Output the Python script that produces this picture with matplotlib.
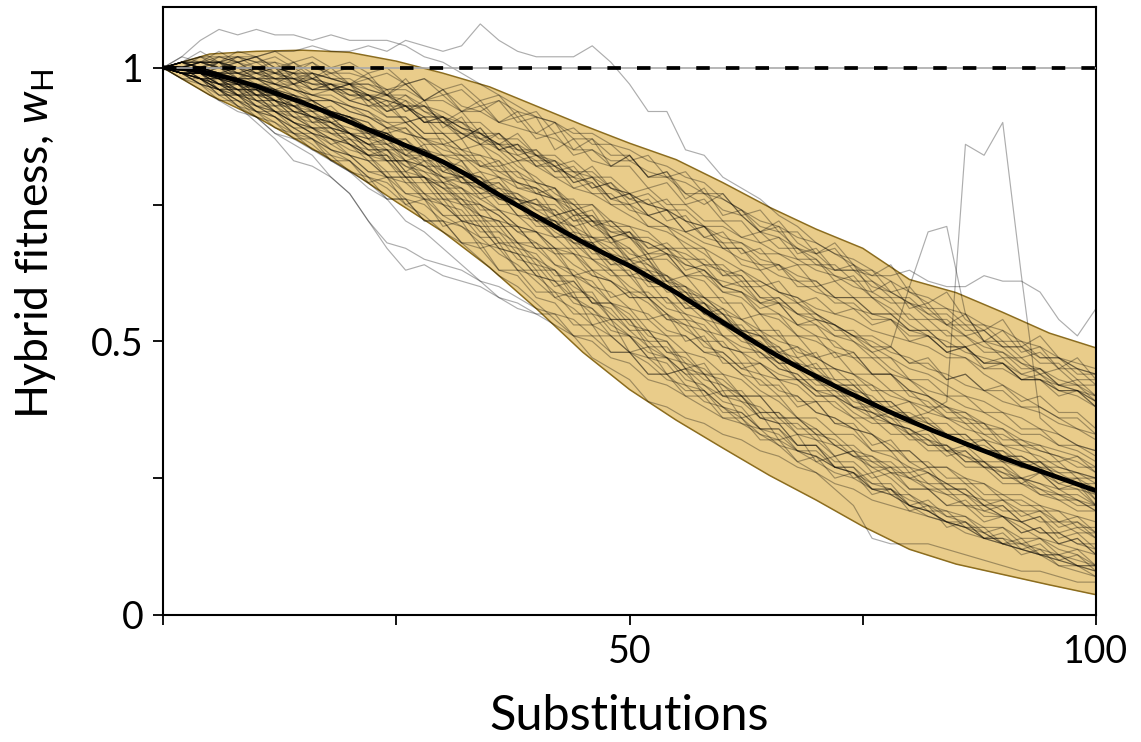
#! /usr/bin/env python3

import numpy as np
import matplotlib
matplotlib.use('Agg')
import matplotlib.pyplot as plt

# Substitution steps for the simulated runs (every 2 substitutions)
run_x = np.arange(0, 101, 2)

# Simulated hybrid fitness runs, in percent
run_01 = [100,101,100,102,101,102,100,99,101,98,97, 98,95,97,94,96,93,92,94,90,91, 85,87,83,82,84,80,81,77,75,77, 73,70,72,68,66,68,64,62,64,59, 57,59,54,52,54,49,51,47,45,44]
run_02 = [100,100,99,99,97,97,96,94,94,92,91, 89,88,89,85,84,83,79,80,76,74, 74,70,69,67,67,63,62,59,58,55, 52,51,49,45,46,42,42,39,37,37, 35,33,31,32,29,27,28,25,25,23]
run_03 = [100,99,98,98,95,95,92,91,89,89,86, 84,84,80,80,77,77,73,72,71,67, 67,64,62,61,58,58,55,53,52,49, 48,46,44,43,40,40,37,35,35,32, 32,29,30,27,27,24,26,23,23,20]
run_04 = [100,101,100,101,99,100,98,99,97,96,97, 95,93,95,92,90,92,88,86,88,84, 82,80,82,78,76,75,76,72,69,68, 64,63,59,58,55,53,50,48,45,43, 40,38,36,35,31,31,28,28,25,25]
run_05 = [100,99,98,96,96,93,92,90,88,87,84, 83,80,80,77,75,72,71,67,66,62, 61,58,56,53,51,48,47,43,42,39, 38,34,34,30,30,27,26,23,23,20, 19,17,16,15,13,13,11,11,9,9]
run_06 = [100,100,101,100,101,99,100,97,98,96,96, 94,92,94,90,90,87,89,85,84,82, 80,78,77,75,73,71,70,68,66,63, 62,58,58,55,53,51,50,47,47,43, 43,40,40,37,37,34,34,31,31,29]
run_07 = [100,100,99,98,98,95,95,92,92,89,88, 86,85,83,82,79,78,76,74,71,70, 67,66,63,61,59,57,54,53,49,48, 45,44,41,40,37,36,34,33,30,30, 27,27,24,24,21,21,19,19,16,16]
run_08 = [100,101,102,102,101,102,100,101,99,98,98, 96,95,93,93,90,88,86,84,81,79, 76,74,71,69,66,65,61,60,57,55, 51,50,47,45,42,42,38,37,35,34, 31,31,28,28,25,25,22,22,20,20]
run_09 = [100,100,99,100,98,98,96,97,94,94,92, 91,89,88,87,84,84,81,80,78,77, 76,72,73,69,70,66,67,63,64,60, 61,57,58,55,55,52,52,49,49,46, 47,43,44,41,41,38,38,36,36,33]
run_10 = [100,99,97,95,93,90,87,83,82,80,77, 72,68,67,65,64,63,61,60,58,56, 55,54,51,51,48,47,44,45,42,40, 39,36,36,33,32,29,30,27,27,25, 24,22,22,19,20,17,18,15,16,14]
run_11 = [100,100,100,99,99,98,98,97,96,96,95, 94,91,91,88,88,85,86,82,83,79, 78,74,75,71,71,67,67,64,63,60, 59,55,55,51,51,47,48,44,44,41, 40,37,37,34,34,31,31,28,29,26]
run_12 = [100,100,99,98,97,96,95,93,92,90,89, 88,86,84,82,80,78,75,73,70,68, 66,62,61,57,55,51,50,46,45,42, 40,36,35,31,31,27,27,23,23,20, 19,17,17,14,14,11,12,9,9,7]
run_13 = [100,101,101,101,100,100,100,99,99,98,97, 97,95,95,93,92,90,90,87,87,84, 84,81,81,78,77,75,74,72,71,68, 68,65,64,62,61,58,58,55,55,52, 52,49,49,46,46,43,44,41,41,38]
run_14 = [100,99,99,98,96,96,94,93,91,91,88, 88,85,85,82,82,79,79,76,75,72, 72,68,68,65,64,61,61,57,57,53, 53,49,49,46,45,42,42,39,39,36, 35,33,33,30,30,28,28,26,26,24]
run_15 = [100,100,99,97,97,95,94,92,91,89,88, 85,85,81,80,78,76,73,72,68,67, 64,62,60,57,56,52,51,48,47,44, 43,40,40,36,36,33,33,30,29,27, 26,24,24,21,21,19,19,17,17,15]
run_16 = [100,102,105,107,106,107,106,106,105,106,105, 105,105,104,102,101,99,97,95,93,91, 90,87,87,84,84,80,80,77,77,74, 73,70,69,67,66,63,63,60,59,57, 56,53,53,50,50,47,48,45,45,42]
run_17 = [100,100,101,101,102,102,103,103,104,103,103, 104,103,105,104,103,104,108,105,103,102, 102,102,104,101,97,92,92,85,84,80, 78,76,73,71,68,66,64,61,59,57, 55,53,51,49,48,46,44,42,41,39]
run_18 = [100,99,99,98,97,97,96,94,93,92,91, 89,88,86,85,82,81,79,77,75,73, 72,69,68,65,64,61,60,58,55,53, 52,49,48,45,44,42,41,38,38,36, 37,39,86,84,90,62,36,33,31,30]
run_19 = [100,100,100,99,98,98,97,96,95,94,93, 91,90,88,87,85,84,82,81,79,78, 76,75,72,71,69,68,66,65,62,61, 60,57,57,55,54,53,51,51,49,60, 70,71,55,50,49,46,45,43,42,40]
run_20 = [100,101,100,100,99,99,98,98,97,97,96, 95,94,93,91,91,89,88,86,86,84, 83,81,80,78,77,75,74,72,71,69, 68,66,66,64,64,63,63,62,62,63, 61,60,60,62,61,61,59,54,51,56]
run_21 = [100,99,98,96,93,91,88,86,84,80,77, 72,67,63,64,62,61,60,58,57,55, 55,51,51,48,48,44,44,41,41,37, 37,34,34,31,31,28,28,25,26,23, 23,20,21,18,18,15,16,13,14,11]
run_22 = [100,100,100,99,98,98,96,95,94,92,91, 90,87,87,84,84,81,80,77,77,74, 72,71,67,67,64,63,60,58,57,54, 52,51,48,47,44,43,41,40,37,36, 34,33,31,30,28,27,26,24,23,22]
run_23 = [100,100,99,99,99,98,97,96,95,94,93, 92,90,90,87,87,84,84,81,81,77, 78,73,74,69,70,65,65,62,61,57, 57,52,52,47,48,43,43,39,39,36, 36,33,33,30,30,27,27,24,25,21]
run_24 = [100,100,98,98,96,96,94,93,91,90,88, 87,86,84,83,81,80,78,76,75,72, 71,68,67,63,63,58,58,54,53,49, 48,44,43,39,39,35,34,30,30,26, 27,23,23,20,20,17,18,14,15,12]
run_25 = [100,100,100,99,98,97,96,95,93,92,91, 89,88,86,85,83,81,80,78,77,75, 74,71,72,68,69,65,66,62,63,59, 59,56,57,53,54,51,51,48,49,46, 46,43,44,41,42,39,40,37,37,34]
run_26 = [100,99,99,97,97,95,95,93,93,91,90, 87,88,85,85,82,80,81,77,76,72, 73,69,68,64,65,61,60,56,57,53, 51,49,46,46,43,41,40,37,36,33, 33,30,30,27,27,25,24,22,22,20]
run_27 = [100,100,101,100,100,100,99,98,98,97,96, 95,94,93,91,91,89,88,86,85,83, 83,79,80,76,77,73,74,70,71,67, 67,63,64,60,60,57,57,54,54,51, 51,48,49,45,46,43,43,40,41,38]
run_28 = [100,99,98,97,95,94,92,90,88,87,85, 84,80,80,76,76,72,72,68,67,63, 63,59,59,54,54,49,49,45,44,40, 40,36,35,31,31,27,27,24,24,20, 21,18,18,15,16,13,14,11,12,9]
run_29 = [100,100,100,100,99,98,97,95,94,92,91, 90,86,87,83,83,79,79,75,75,71, 71,67,67,64,64,60,60,56,56,51, 51,47,47,43,43,40,40,36,37,33, 34,30,31,28,28,25,26,23,24,20]
run_30 = [100,101,100,99,100,98,98,96,95,95,93, 92,89,90,87,86,85,82,82,79,78, 76,76,72,72,69,68,66,64,63,60, 59,57,55,53,51,50,47,47,44,43, 41,40,38,37,35,33,33,31,30,28]
run_31 = [100,99,99,98,97,95,95,92,91,90,88, 86,86,83,82,80,77,77,74,73,70, 69,66,65,62,62,58,58,55,54,51, 49,48,45,44,41,40,38,36,35,33, 31,31,28,28,25,25,23,22,21,19]
run_32 = [100,100,101,101,100,99,98,98,96,96,94, 93,91,91,88,88,85,84,83,80,79, 78,75,75,72,71,70,67,67,64,63, 60,60,57,57,54,53,51,50,48,47, 45,44,42,41,39,38,37,35,34,33]
run_33 = [100,100,99,98,98,96,95,94,92,92,90, 88,87,84,84,81,80,77,77,73,72, 69,69,65,65,62,61,57,57,54,53, 50,49,46,46,43,42,40,39,37,36, 34,33,31,30,28,28,26,25,24,22]
run_34 = [100,99,99,97,96,96,93,93,90,90,87, 86,83,83,80,79,76,75,73,70,70, 66,66,62,61,58,58,54,54,50,50, 46,46,43,42,39,39,36,36,33,33, 30,30,27,27,24,24,22,21,19,19]
run_35 = [100,101,101,100,100,99,99,98,97,97,95, 95,93,93,90,90,88,87,86,83,83, 80,80,77,77,74,73,71,70,68,67, 65,64,62,61,59,58,56,55,54,52, 51,50,48,47,46,44,43,42,41,40]
run_36 = [100,100,100,99,97,97,95,95,93,91,91, 88,88,85,84,83,80,80,76,76,73, 72,69,69,66,65,62,62,58,58,55, 54,51,51,48,47,45,44,41,41,39, 38,36,36,33,33,31,30,29,28,26]
run_37 = [100,99,98,96,95,93,92,90,89,87,86, 85,83,83,81,80,79,78,77,76,75, 75,72,72,70,70,67,68,65,65,62, 63,60,61,57,58,55,56,53,54,50, 51,48,49,46,47,44,45,42,43,40]
run_38 = [100,101,101,101,101,100,100,99,99,98,97, 96,95,94,92,91,89,87,85,82,80, 77,75,72,69,67,64,61,59,56,53, 51,48,46,43,41,38,36,33,31,28, 26,24,22,20,18,16,14,12,11,9]
run_39 = [100,102,101,103,101,102,99,101,98,100,97, 99,95,98,94,96,92,94,90,92,88, 90,85,87,82,84,80,81,76,78,73, 74,70,71,66,67,63,64,59,61,56, 57,53,55,50,52,48,49,45,47,43]
run_40 = [100,98,97,94,94,91,90,87,87,83,83, 79,80,75,76,71,72,67,68,63,63, 58,59,53,54,48,49,44,45,40,41, 36,37,32,33,28,29,25,26,22,22, 19,19,16,16,13,14,11,11,9,9]
run_41 = [100,101,103,101,102,100,101,98,99,96,97, 93,94,90,91,86,87,82,83,78,78, 73,74,69,69,64,65,60,60,55,55, 51,51,47,46,43,42,39,38,35,34, 32,30,29,27,26,24,23,21,21,19]
run_42 = [100,98,98,95,95,92,92,89,89,86,87, 84,85,81,83,79,80,77,78,75,76, 73,74,71,72,69,69,67,66,64,64, 61,61,59,58,56,55,54,52,51,50, 49,47,47,45,45,43,43,41,41,39]
run_43 = [100,99,100,97,98,95,96,93,94,90,91, 87,89,84,86,81,83,78,79,75,76, 71,73,68,69,65,66,61,62,58,58, 54,55,51,51,47,48,44,44,41,41, 38,38,35,35,32,32,30,29,27,27]
run_44 = [100,100,102,100,101,99,100,97,99,96,97, 94,96,92,94,89,91,86,88,84,85, 81,82,78,79,75,76,72,73,69,70, 66,67,63,64,60,61,58,58,55,55, 52,52,49,50,47,47,44,45,42,42]
run_45 = [100,99,98,97,95,95,92,92,89,89,86, 84,83,80,80,76,76,72,72,68,68, 64,63,60,59,56,55,52,51,48,47, 44,43,40,40,37,36,34,33,30,30, 27,27,25,24,22,22,20,19,18,17]
run_46 = [100,101,99,101,99,100,98,98,96,97,95, 95,92,93,90,91,88,88,85,86,82, 82,78,79,75,75,71,71,67,67,62, 62,58,57,53,53,49,48,44,44,40, 39,36,35,32,31,28,28,25,24,21]
run_47 = [100,99,97,96,94,93,91,89,87,85,84, 81,80,77,76,73,71,69,66,64,61, 58,56,53,51,48,46,43,42,39,38, 35,34,31,30,28,26,25,23,22,20, 18,17,15,14,13,12,11,10,9,8]
run_48 = [100,100,99,100,98,99,97,97,95,96,94, 93,93,90,91,88,88,86,86,83,84, 81,81,78,79,76,77,74,74,71,71, 69,68,66,65,63,62,60,59,57,57, 54,54,51,52,49,49,47,47,45,44]
run_49 = [100,100,98,98,95,96,93,94,90,91,88, 86,87,83,84,80,80,76,77,73,73, 69,70,66,66,62,63,59,59,55,56, 52,52,48,49,45,45,42,42,38,39, 35,35,32,32,29,29,27,26,24,24]
run_50 = [100,101,100,99,99,97,97,96,94,94,92, 91,89,89,86,86,83,83,80,79,77, 76,73,73,70,69,66,66,62,62,59, 58,55,54,51,50,48,47,44,44,41, 40,38,37,35,34,32,31,30,29,27]
run_51 = [100,100,99,99,97,97,95,94,93,91,90, 89,87,86,84,83,81,79,77,75,73, 70,68,65,63,60,58,55,52,50,47, 44,41,39,36,34,31,29,27,25,22, 20,18,17,15,13,12,11,9,8,7]
run_52 = [100,101,100,101,100,101,99,100,98,99,97, 97,96,96,94,94,92,92,90,89,88, 87,85,85,83,83,81,80,79,77,76, 74,72,71,69,68,66,65,63,61,59, 58,56,55,53,52,50,49,47,46,45]
run_53 = [100,99,99,98,96,97,94,95,92,93,90, 89,88,86,85,83,82,79,79,76,75, 73,71,69,68,65,64,62,60,58,56, 54,52,50,49,47,45,44,42,40,39, 37,36,34,33,31,30,29,27,26,25]
run_54 = [100,99,99,96,97,94,94,91,91,88,88, 85,85,82,81,78,78,74,74,71,70, 67,67,63,63,59,59,56,55,52,51, 48,48,45,44,41,41,38,37,35,34, 32,31,29,28,26,25,24,23,21,20]
run_55 = [100,100,101,101,100,100,99,99,98,97,97, 95,95,93,93,91,90,88,88,85,84, 82,80,79,76,75,73,71,69,67,65, 63,61,59,57,55,53,51,49,47,45, 44,42,40,39,37,36,34,33,31,30]
run_56 = [100,98,96,94,92,91,88,87,85,83,81, 80,76,76,72,72,68,68,63,63,59, 59,55,55,51,51,47,47,44,44,40, 40,37,37,34,34,31,31,28,28,25, 26,23,23,20,21,18,19,16,17,14]
run_57 = [100,100,99,101,98,100,97,99,96,97,94, 95,92,93,90,91,87,89,85,86,82, 83,79,80,76,77,73,74,70,71,67, 67,64,64,61,61,58,58,55,55,52, 52,49,49,46,46,43,43,41,40,38]
run_58 = [100,99,99,97,96,95,94,92,91,89,88, 87,83,83,79,79,75,75,71,71,67, 67,62,63,58,59,54,55,50,51,46, 46,42,42,38,39,35,35,31,32,28, 28,25,25,22,22,20,20,17,18,15]
run_59 = [100,101,102,101,103,102,103,101,102,100,101, 99,100,97,98,96,97,94,95,91,92, 88,89,86,86,83,84,80,81,77,77, 73,74,70,70,66,67,63,63,59,60, 56,56,53,53,50,50,47,47,44,44]
run_60 = [100,100,101,100,102,101,101,100,100,99,99, 98,96,97,94,95,92,93,90,91,87, 88,84,85,82,82,78,79,75,76,72, 72,68,69,65,65,61,62,58,58,54, 54,51,51,48,48,45,45,42,42,39]
run_61 = [100,101,101,102,102,101,102,100,101,99,100, 98,99,97,98,95,96,93,94,92,91, 90,88,88,86,85,83,82,80,79,76, 74,71,70,67,65,62,61,58,56,53, 51,48,47,44,42,40,38,36,34,32]
run_62 = [100,100,100,99,100,98,99,97,98,96,96, 94,95,92,93,90,90,87,88,85,85, 82,83,80,80,77,78,75,75,72,72, 69,70,67,67,64,64,61,61,58,58, 55,55,52,52,49,49,46,46,43,43]
run_63 = [100,99,97,96,94,92,91,88,87,84,83, 80,79,76,75,72,71,68,67,63,62, 59,58,55,54,51,50,47,46,43,42, 39,38,35,35,32,31,29,28,26,25, 23,22,20,19,18,17,15,15,13,12]
run_64 = [100,100,98,97,97,94,94,91,90,88,87, 84,84,80,80,76,75,71,71,67,66, 62,62,57,57,53,52,48,48,44,44, 40,40,36,36,33,32,29,29,26,26, 23,23,20,20,18,17,15,15,13,13]
run_65 = [100,99,98,95,95,92,91,88,88,85,84, 81,81,77,77,73,73,69,69,65,64, 60,61,57,57,54,54,51,51,48,48, 45,46,43,43,40,40,38,38,36,35, 34,33,31,31,29,29,27,27,26,25]
run_66 = [100,100,99,97,96,94,93,91,89,88,86, 84,81,81,77,77,73,73,68,68,64, 63,58,58,54,54,50,50,45,46,41, 41,37,37,33,33,29,30,26,27,23, 23,20,20,17,18,15,16,13,14,11]
run_67 = [100,99,97,96,93,92,89,88,85,84,81, 79,76,76,72,72,68,67,63,62,58, 57,53,53,48,48,44,44,40,40,36, 36,32,32,28,29,25,26,22,23,19, 20,16,17,14,15,12,13,10,11,8]
run_68 = [100,99,98,96,95,93,91,89,87,85,83, 80,78,75,73,70,68,65,62,60,57, 54,51,47,45,43,39,38,36,35,33, 32,30,29,27,26,24,23,21,20,19, 18,17,16,14,14,13,12,11,10,9]
run_69 = [100,100,98,97,95,94,92,90,88,86,84, 83,80,79,76,75,72,71,67,66,62, 61,57,56,52,51,47,46,42,41,38, 37,34,33,30,29,27,26,23,22,20, 19,17,16,14,13,12,11,10,9,8]
run_70 = [100,99,99,96,96,93,93,90,89,87,86, 83,83,79,79,75,74,70,70,66,65, 61,61,57,56,52,52,48,47,44,43, 40,40,36,36,33,33,30,29,27,27, 24,24,22,21,19,19,17,17,15,15]
run_71 = [100,100,99,98,97,96,94,93,91,90,88, 86,84,82,80,78,75,73,70,68,65, 63,60,58,55,52,49,47,44,41,38, 36,33,31,28,26,23,20,14,13,13, 13,12,11,10,9,8,8,7,6,6]
run_72 = [100,99,98,96,94,92,90,88,86,83,81, 78,76,72,70,67,64,61,58,56,55, 53,51,50,47,46,43,42,40,38,36, 35,33,32,30,29,27,26,24,23,21, 20,19,18,16,16,14,14,13,12,11]

runs = [run_01, run_02, run_03, run_04, run_05, run_06, run_07, run_08, run_09, run_10,
        run_11, run_12, run_13, run_14, run_15, run_16, run_17, run_18, run_19, run_20,
        run_21, run_22, run_23, run_24, run_25, run_26, run_27, run_28, run_29, run_30,
        run_31, run_32, run_33, run_34, run_35, run_36, run_37, run_38, run_39, run_40,
        run_41, run_42, run_43, run_44, run_45, run_46, run_47, run_48, run_49, run_50,
        run_51, run_52, run_53, run_54, run_55, run_56, run_57, run_58, run_59, run_60,
        run_61, run_62, run_63, run_64, run_65, run_66, run_67, run_68, run_69, run_70,
        run_71, run_72]

# Envelope, every 5 substitutions
band_x = np.arange(0, 101, 5)
band_upper = [1.0, 1.025, 1.03, 1.032, 1.028, 1.012, 0.99, 0.965, 0.93, 0.895, 0.862,
              0.832, 0.79, 0.745, 0.705, 0.67, 0.613, 0.589, 0.553, 0.515, 0.488]
band_lower = [1.0, 0.95, 0.91, 0.862, 0.812, 0.755, 0.70, 0.635, 0.56, 0.48, 0.412,
              0.356, 0.305, 0.255, 0.21, 0.162, 0.12, 0.093, 0.074, 0.055, 0.037]

# Mean fitness, every 2.5 substitutions
mean_x = np.arange(0, 100.1, 2.5)
mean_fit = [1.0, 0.998, 0.99, 0.979, 0.966, 0.951, 0.936, 0.919, 0.901, 0.883,
            0.865, 0.847, 0.828, 0.805, 0.778, 0.753, 0.729, 0.705, 0.681, 0.659,
            0.638, 0.614, 0.589, 0.562, 0.535, 0.508, 0.482, 0.458, 0.436, 0.414,
            0.394, 0.374, 0.355, 0.337, 0.32, 0.303, 0.287, 0.272, 0.257, 0.242, 0.227]

# Tick labels
x_ticks = [0, 25, 50, 75, 100]
x_ticklabels = ['', '', '50', '', '100']
y_ticks = [0, 0.25, 0.5, 0.75, 1]
y_ticklabels = ['0', '', '0.5', '', '1']

font = 'Lato'
plt.rcParams['font.family'] = font
plt.rcParams['mathtext.fontset'] = 'custom'
plt.rcParams['mathtext.rm'] = font
plt.rcParams['mathtext.it'] = font + ':italic'

fig = plt.figure(figsize=(11.41, 7.42), dpi=100)
ax = fig.add_axes([0.1429, 0.1712, 0.8177, 0.8194])

# Envelope
ax.fill_between(band_x, band_lower, band_upper, color='#E9CC8A', linewidth=0, zorder=1)
ax.plot(band_x, band_upper, color='#8C6D1F', linewidth=1.1, zorder=1.5)
ax.plot(band_x, band_lower, color='#8C6D1F', linewidth=1.1, zorder=1.5)

# Individual runs
for r in runs:
    ax.plot(run_x, np.array(r) / 100.0, color='k', alpha=0.32, linewidth=0.85, zorder=2)

# Mean
ax.plot(mean_x, mean_fit, color='k', linewidth=3.4, zorder=3)

# Parental fitness reference
ax.axhline(1.0, color='#aaaaaa', linewidth=1.2, zorder=4)
ax.axhline(1.0, color='k', linewidth=2.7, linestyle=(0, (3.6, 4.3)), zorder=5)

ax.set_xlim(0, 100)
ax.set_ylim(0, 1.111)

ax.set_xticks(x_ticks)
ax.set_xticklabels(x_ticklabels)
ax.set_yticks(y_ticks)
ax.set_yticklabels(y_ticklabels)
ax.tick_params(direction='out', length=7, width=1.3, pad=7, labelsize=27)

for s in ax.spines.values():
    s.set_linewidth(1.5)

ax.set_xlabel('Substitutions', fontsize=35, va='baseline')
ax.xaxis.set_label_coords(0.5, -0.189)
ax.set_ylabel(r'Hybrid fitness, $w_{\mathrm{H}}$', fontsize=32, va='baseline')
ax.yaxis.set_label_coords(-0.123, 0.61)

fig.savefig('out.png', dpi=100)
